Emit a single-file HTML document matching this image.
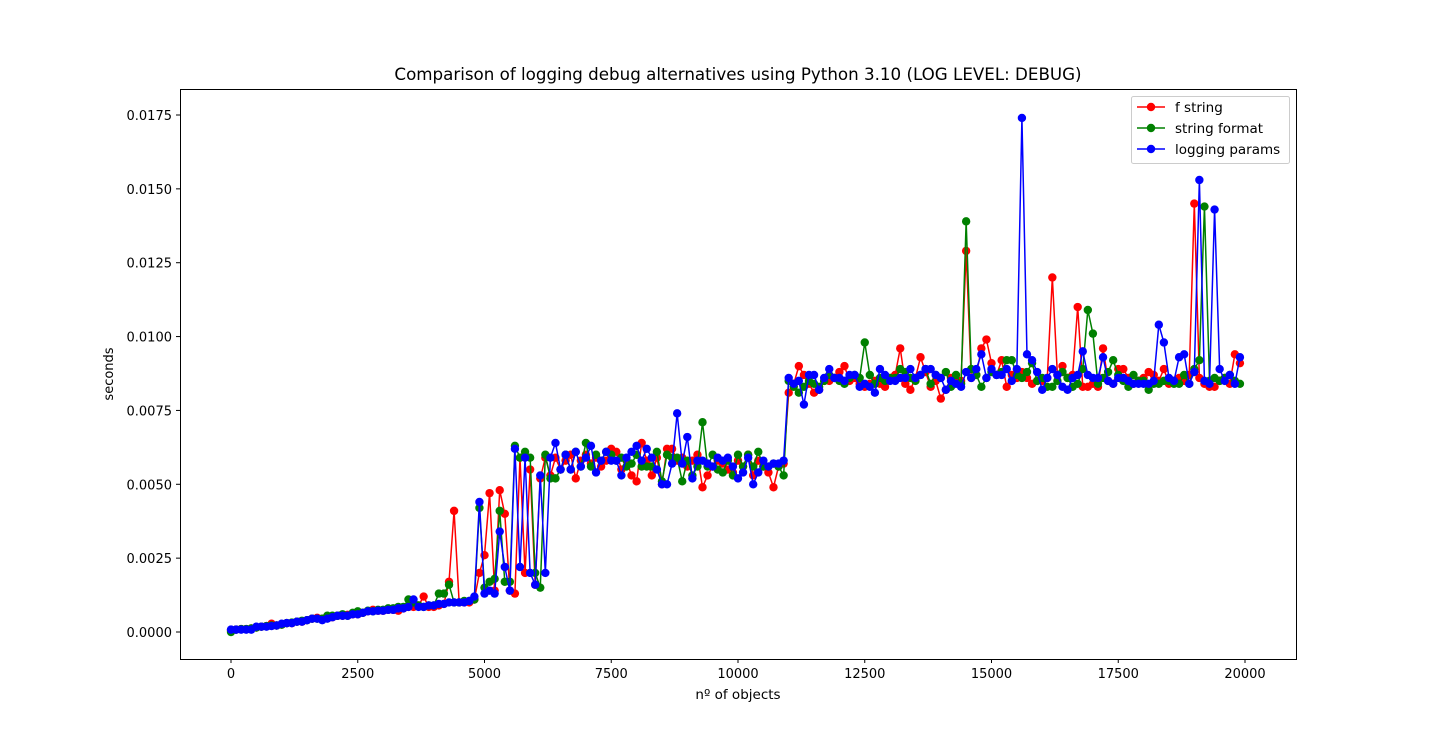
<!DOCTYPE html>
<html><head><meta charset="utf-8"><style>
body{margin:0;background:#fff;}
svg{display:block;font-family:"DejaVu Sans","Liberation Sans",sans-serif;}
</style></head><body>
<svg id="chart" width="1440" height="740" viewBox="0 0 1440 740">
<rect width="1440" height="740" fill="#fff"/>
<text x="738" y="80" font-size="16.7" text-anchor="middle">Comparison of logging debug alternatives using Python 3.10 (LOG LEVEL: DEBUG)</text>
<g id="series"></g>
<rect x="180.5" y="89.5" width="1116" height="570" fill="none" stroke="#000" stroke-width="1"/>
<g id="axes"></g>
<text x="738" y="699" font-size="13.5" text-anchor="middle">nº of objects</text>
<text x="0" y="0" font-size="13" text-anchor="middle" transform="translate(113,374) rotate(-90)">seconds</text>
<g id="legend">
<rect x="1131.5" y="96.5" width="158" height="67" fill="#fff" fill-opacity="0.8" stroke="#ccc" rx="2"/>
</g>
</svg>
<script>
const seriesNames = ["f string","string format","logging params"];
const seriesColors = ["#ff0000","#008000","#0000ff"];
const xTicks = [0,2500,5000,7500,10000,12500,15000,17500,20000];
const yTicks = [0,0.0025,0.005,0.0075,0.01,0.0125,0.015,0.0175];
const yTickLabels = ["0.0000","0.0025","0.0050","0.0075","0.0100","0.0125","0.0150","0.0175"];
// values in milliseconds, x = index*100
const fString = [0.05,0.08,0.1,0.1,0.12,0.15,0.18,0.2,0.28,0.22,
0.25,0.3,0.3,0.35,0.35,0.4,0.45,0.48,0.45,0.5,
0.5,0.55,0.55,0.58,0.6,0.6,0.65,0.7,0.75,0.72,
0.72,0.75,0.75,0.72,0.8,0.85,0.85,0.9,1.2,0.85,
0.85,0.9,0.95,1.7,4.1,1.0,1.0,1.0,1.1,2.0,
2.6,4.7,1.4,4.8,4.0,1.4,1.3,5.9,2.0,5.5,
1.6,5.2,5.9,5.3,5.9,5.5,5.8,6.0,5.2,5.8,
6.0,5.7,5.9,5.6,5.8,6.2,6.1,5.5,5.8,5.3,
5.1,6.4,5.8,5.3,5.9,5.0,6.2,6.2,5.8,5.9,
5.6,5.8,6.0,4.9,5.3,5.6,5.8,5.7,5.5,5.4,
5.8,5.6,6.0,5.3,5.8,5.6,5.4,4.9,5.6,5.7,
8.1,8.4,9.0,8.7,8.4,8.1,8.2,8.5,8.5,8.6,
8.8,9.0,8.5,8.6,8.4,8.3,8.4,8.5,8.4,8.3,
8.6,8.7,9.6,8.4,8.2,8.6,9.3,8.8,8.3,8.5,
7.9,8.2,8.6,8.5,8.5,12.9,8.6,8.7,9.6,9.9,
9.1,8.7,9.2,8.3,8.7,8.6,8.8,8.6,8.4,8.5,
8.5,8.6,12.0,8.7,9.0,8.6,8.7,11.0,8.3,8.3,
8.4,8.3,9.6,8.5,8.4,8.9,8.9,8.6,8.4,8.5,
8.6,8.8,8.7,8.5,8.9,8.4,8.5,8.6,8.5,8.7,
14.5,8.6,8.4,8.3,8.3,8.5,8.6,8.4,9.4,9.1];
const stringFormat = [0.0,0.08,0.1,0.1,0.12,0.15,0.18,0.2,0.22,0.22,
0.25,0.3,0.32,0.35,0.38,0.4,0.45,0.45,0.45,0.55,
0.55,0.55,0.6,0.55,0.65,0.7,0.65,0.72,0.7,0.75,
0.75,0.8,0.8,0.85,0.85,1.1,1.0,0.9,0.85,0.9,
0.9,1.3,1.3,1.6,1.0,1.0,1.05,1.05,1.1,4.2,
1.5,1.7,1.8,4.1,1.7,1.7,6.3,5.9,6.1,5.9,
2.0,1.5,6.0,5.2,5.2,5.5,6.0,5.5,6.1,5.6,
6.4,5.6,6.0,5.8,6.1,6.0,5.8,5.9,5.6,5.7,
6.0,5.6,5.6,5.6,6.1,5.1,6.0,5.9,5.9,5.1,
5.8,5.3,5.6,7.1,5.6,6.0,5.5,5.4,5.8,5.3,
6.0,5.6,6.0,5.6,6.1,5.6,5.6,5.7,5.6,5.3,
8.5,8.3,8.1,8.3,8.5,8.4,8.3,8.5,8.7,8.6,
8.5,8.4,8.6,8.7,8.6,9.8,8.7,8.4,8.6,8.5,
8.6,8.6,8.9,8.8,8.6,8.5,8.7,8.9,8.4,8.7,
8.6,8.8,8.3,8.7,8.4,13.9,8.9,8.7,8.3,8.6,
8.8,8.7,8.8,9.2,9.2,8.7,8.6,8.8,9.1,8.5,
8.6,8.3,8.3,8.5,8.8,8.6,8.3,8.4,8.9,10.9,
10.1,8.4,8.6,8.8,9.2,8.7,8.5,8.3,8.7,8.5,
8.5,8.2,8.4,8.4,8.5,8.5,8.4,8.4,8.7,8.4,
8.9,9.2,14.4,8.5,8.6,8.5,8.6,8.7,8.5,8.4];
const loggingParams = [0.08,0.08,0.08,0.08,0.08,0.18,0.18,0.18,0.2,0.22,
0.28,0.3,0.3,0.35,0.35,0.4,0.45,0.45,0.4,0.45,
0.5,0.55,0.55,0.55,0.6,0.6,0.65,0.7,0.7,0.72,
0.72,0.75,0.75,0.8,0.8,0.85,1.1,0.85,0.85,0.9,
0.9,0.95,0.95,1.0,1.0,1.0,1.0,1.05,1.2,4.4,
1.3,1.4,1.3,3.4,2.2,1.4,6.2,2.2,5.9,2.0,
1.6,5.3,2.0,5.9,6.4,5.5,6.0,5.5,6.1,5.6,
5.9,6.3,5.4,5.8,6.1,5.8,5.8,5.3,5.9,6.1,
6.3,5.8,6.2,5.9,5.5,5.0,5.0,5.7,7.4,5.7,
6.6,5.2,5.8,5.8,5.7,5.6,5.9,5.8,5.9,5.6,
5.2,5.4,5.9,5.0,5.4,5.8,5.6,5.7,5.7,5.8,
8.6,8.4,8.5,7.7,8.7,8.7,8.2,8.6,8.9,8.6,
8.6,8.5,8.7,8.7,8.3,8.4,8.3,8.1,8.9,8.7,
8.5,8.5,8.6,8.6,8.9,8.6,8.7,8.9,8.9,8.7,
8.6,8.2,8.5,8.4,8.3,8.8,8.6,8.9,9.4,8.6,
8.9,8.7,8.7,8.9,8.5,8.9,17.4,9.4,9.2,8.8,
8.2,8.6,8.9,8.7,8.3,8.2,8.6,8.7,9.5,8.7,
8.6,8.6,9.3,8.5,8.4,8.6,8.6,8.5,8.4,8.4,
8.4,8.4,8.5,10.4,9.8,8.6,8.5,9.3,9.4,8.4,
8.8,15.3,8.5,8.4,14.3,8.9,8.5,8.7,8.4,9.3];
const allSeries = [fString, stringFormat, loggingParams];

const L=180, R=1296, T=89, B=659;
const x0px=231, x1px=1245, y0px=632, y1px=115;
function xScale(v){return x0px + v/20000*(x1px-x0px);}
function yScale(v){return y0px - v/0.0175*(y0px-y1px);}
const NS="http://www.w3.org/2000/svg";
function mk(tag, attrs){const e=document.createElementNS(NS,tag);for(const k in attrs)e.setAttribute(k,attrs[k]);return e;}

const axes=document.getElementById('axes');
xTicks.forEach((t,i)=>{
  const px=xScale(t);
  const ln=mk('line',{x1:px,x2:px,y1:B,y2:B+4,stroke:'#000'});
  
  
  axes.appendChild(ln);
  const tx=mk('text',{x:px,y:B+19,'font-size':13,'text-anchor':'middle'});
  
  
  tx.textContent=String(t);
  axes.appendChild(tx);
});
yTicks.forEach((t,i)=>{
  const py=yScale(t);
  const ln=mk('line',{x1:L-4,x2:L,y1:py,y2:py,stroke:'#000'});
  
  
  axes.appendChild(ln);
  const tx=mk('text',{x:L-8,y:py+5,'font-size':13,'text-anchor':'end'});
  
  
  tx.textContent=yTickLabels[i];
  axes.appendChild(tx);
});

const sg=document.getElementById('series');
allSeries.forEach((arr,si)=>{
  const g=mk('g',{});
  
  
  const pts=arr.map((v,i)=>xScale(i*100).toFixed(2)+','+yScale(v/1000).toFixed(2)).join(' ');
  const pl=mk('polyline',{points:pts,fill:'none',stroke:seriesColors[si],'stroke-width':1.5,'stroke-linejoin':'round'});
  
  
  g.appendChild(pl);
  arr.forEach((v,i)=>{
    const c=mk('circle',{cx:xScale(i*100),cy:yScale(v/1000),r:4.2,fill:seriesColors[si]});
    
    
    g.appendChild(c);
  });
  sg.appendChild(g);
});

const lg=document.getElementById('legend');
seriesNames.forEach((n,i)=>{
  const y=107+i*21;
  const ln=mk('line',{x1:1137,x2:1165,y1:y,y2:y,stroke:seriesColors[i],'stroke-width':1.5});
  
  
  lg.appendChild(ln);
  const c=mk('circle',{cx:1151,cy:y,r:4.2,fill:seriesColors[i]});
  
  
  lg.appendChild(c);
  const t=mk('text',{x:1175,y:y+5,'font-size':13.5});
  
  
  t.textContent=n;
  lg.appendChild(t);
});
</script>
</body></html>
